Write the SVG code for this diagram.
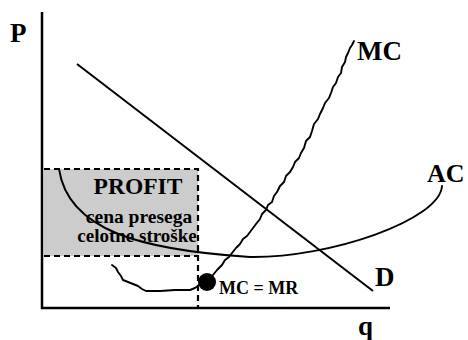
<svg xmlns="http://www.w3.org/2000/svg" width="468" height="340" viewBox="0 0 468 340">
<style>
  text{font-family:'Liberation Serif','Times New Roman',serif;font-weight:bold;fill:#000}
  .axis{stroke:#000;stroke-width:2.5;fill:none}
  .curve{stroke:#000;stroke-width:1.9;fill:none;stroke-linejoin:round;stroke-linecap:round}
  .dash{stroke:#000;stroke-width:2.2;stroke-dasharray:6,4;fill:none}
</style>
<rect width="468" height="340" fill="#fff"/>
<g id="profit-area">
  <rect x="44" y="169" width="154" height="87" fill="#cccccc"/>
  <path class="dash" d="M44,169 H198 V308 M44,256 H198"/>
  <text x="138" y="194" font-size="23.5" text-anchor="middle">PROFIT</text>
  <text x="139" y="223" font-size="19.5" text-anchor="middle">cena presega</text>
  <text x="137" y="242" font-size="19" text-anchor="middle">celotne stroške</text>
</g>
<g id="axes">
  <path class="axis" d="M42,12 V308 H390"/>
  <text x="10" y="42" font-size="27">P</text>
  <text x="358" y="335" font-size="27">q</text>
</g>
<g id="connectors">
  <path id="D-line" d="M77,64 L373,291" stroke="#000" stroke-width="2" fill="none"/>
  <path id="AC-curve" class="curve" d="M59,169 C68,230 140,250 250,257 C330,258 440,220 442,186"/>
  <path id="MC-curve" class="curve" d="M112,265 L116,268 L118,272 L121,276 L123,280 L128,282 L133,284 L138,286 L142,289 L146,291 L160,291 L175,290 L190,290 L195,288 L199,285 L204,283 L210,278 L213,275 L217,270 L222,265 L225,260 L229,257 L232,253 L236,248 L240,244 L243,239 L247,236 L250,232 L253,228 L256,224 L260,219 L262,214 L266,210 L268,205 L272,202 L274,196 L277,192 L280,186 L284,182 L286,176 L290,172 L293,167 L295,162 L299,158 L301,153 L304,148 L306,141 L310,137 L312,131 L314,124 L318,119 L320,114 L323,108 L325,103 L329,98 L331,93 L333,87 L336,83 L338,77 L341,73 L342,67 L345,62 L346,57 L348,53 L350,48 L352,45 L354,41"/>
  <circle cx="207" cy="282" r="9" fill="#000"/>
</g>
<g id="curve-labels">
  <text x="357" y="60" font-size="27">MC</text>
  <text x="427" y="182" font-size="26">AC</text>
  <text x="375" y="286" font-size="27">D</text>
  <text x="219" y="294" font-size="18">MC = MR</text>
</g>
</svg>
